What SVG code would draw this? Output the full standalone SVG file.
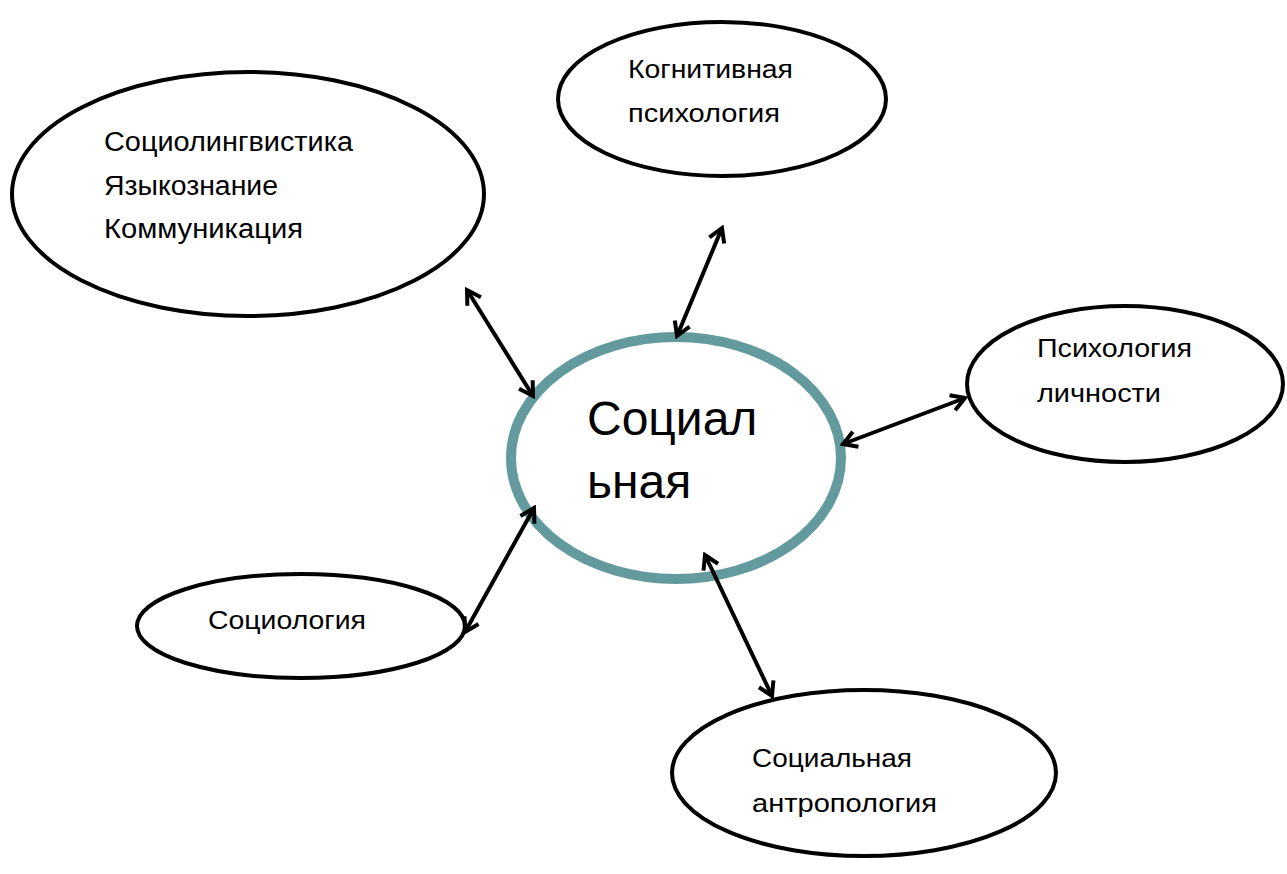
<svg xmlns="http://www.w3.org/2000/svg" width="1287" height="874" viewBox="0 0 1287 874">
<style>
.node{fill:#ffffff;stroke:#000000;stroke-width:4}
.center{fill:#ffffff;stroke:#639a9e;stroke-width:10}
.t{font-family:"Liberation Sans",Arial,sans-serif;font-size:26px;fill:#000000}
.tl{font-family:"Liberation Sans",Arial,sans-serif;font-size:27px;fill:#000000}
.tc{font-family:"Liberation Sans",Arial,sans-serif;font-size:48px;fill:#000000}
.conn{stroke:#000000;stroke-width:4;fill:none;marker-start:url(#ah);marker-end:url(#ah)}
</style>
<defs>
<marker id="ah" viewBox="0 0 20 20" refX="17" refY="10" markerWidth="20" markerHeight="20" markerUnits="userSpaceOnUse" orient="auto-start-reverse">
<path d="M3.5,2 L17,10 L3.5,18" fill="none" stroke="#000000" stroke-width="4" stroke-linejoin="miter"/>
</marker>
</defs>
<rect x="0" y="0" width="1287" height="874" fill="#ffffff"/>
<g id="node-socioling">
<ellipse class="node" cx="248" cy="194" rx="236" ry="122"/>
<text class="tl" x="104" y="151" textLength="249" lengthAdjust="spacingAndGlyphs">Социолингвистика</text>
<text class="tl" x="104" y="195" textLength="174" lengthAdjust="spacingAndGlyphs">Языкознание</text>
<text class="tl" x="104" y="238" textLength="199" lengthAdjust="spacingAndGlyphs">Коммуникация</text>
</g>
<g id="node-cognitive">
<ellipse class="node" cx="722" cy="99" rx="164" ry="77"/>
<text class="t" x="628" y="78" textLength="165" lengthAdjust="spacingAndGlyphs">Когнитивная</text>
<text class="t" x="628" y="122" textLength="152" lengthAdjust="spacingAndGlyphs">психология</text>
</g>
<g id="node-personality">
<ellipse class="node" cx="1125" cy="384" rx="158" ry="78"/>
<text class="t" x="1037" y="357" textLength="155" lengthAdjust="spacingAndGlyphs">Психология</text>
<text class="t" x="1037" y="402" textLength="124" lengthAdjust="spacingAndGlyphs">личности</text>
</g>
<g id="node-sociology">
<ellipse class="node" cx="301" cy="626" rx="164" ry="52"/>
<text class="t" x="208" y="629" textLength="158" lengthAdjust="spacingAndGlyphs">Социология</text>
</g>
<g id="node-anthropology">
<ellipse class="node" cx="864" cy="773" rx="192" ry="83"/>
<text class="t" x="752" y="767" textLength="160" lengthAdjust="spacingAndGlyphs">Социальная</text>
<text class="t" x="752" y="812" textLength="185" lengthAdjust="spacingAndGlyphs">антропология</text>
</g>
<g id="node-center">
<ellipse class="center" cx="676" cy="458" rx="165" ry="121"/>
<text class="tc" x="587" y="435">Социал</text>
<text class="tc" x="587" y="498">ьная</text>
</g>
<g id="connectors">
<line class="conn" x1="467" y1="290" x2="533" y2="396"/>
<line class="conn" x1="722" y1="228" x2="677" y2="336"/>
<line class="conn" x1="965" y1="398" x2="843" y2="444"/>
<line class="conn" x1="534" y1="508" x2="465" y2="632"/>
<line class="conn" x1="705" y1="555" x2="772" y2="696"/>
</g>
</svg>
